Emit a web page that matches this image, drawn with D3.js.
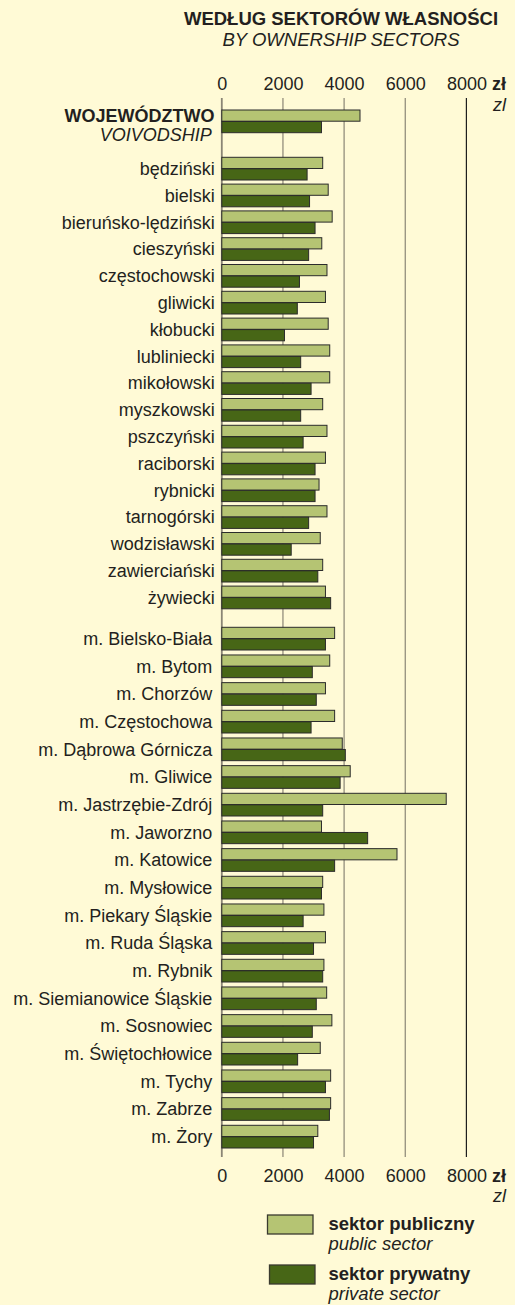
<!DOCTYPE html>
<html>
<head>
<meta charset="utf-8">
<script src="https://cdn.jsdelivr.net/npm/d3@7"></script>
<style>
  html, body { margin: 0; padding: 0; background: #fffad6; }
  svg { display: block; font-family: "Liberation Sans", Arial, sans-serif; }
</style>
</head>
<body>
<svg id="chart"></svg>
<script>
const width = 515;
const height = 1305;

const categories = [
  "WOJEWÓDZTWO",
  "będziński", "bielski", "bieruńsko-lędziński", "cieszyński", "częstochowski",
  "gliwicki", "kłobucki", "lubliniecki", "mikołowski", "myszkowski", "pszczyński",
  "raciborski", "rybnicki", "tarnogórski", "wodzisławski", "zawierciański", "żywiecki",
  "m. Bielsko-Biała", "m. Bytom", "m. Chorzów", "m. Częstochowa", "m. Dąbrowa Górnicza",
  "m. Gliwice", "m. Jastrzębie-Zdrój", "m. Jaworzno", "m. Katowice", "m. Mysłowice",
  "m. Piekary Śląskie", "m. Ruda Śląska", "m. Rybnik", "m. Siemianowice Śląskie",
  "m. Sosnowiec", "m. Świętochłowice", "m. Tychy", "m. Zabrze", "m. Żory"
];

const publicSector = [
  4520,
  3300, 3480, 3610, 3270, 3440, 3390, 3480, 3530, 3530, 3300, 3440,
  3390, 3180, 3440, 3220, 3300, 3390,
  3690, 3530, 3390, 3690, 3940, 4200, 7340, 3260, 5730, 3300,
  3340, 3390, 3340, 3430, 3600, 3220, 3560, 3560, 3140
];

const privateSector = [
  3260,
  2790, 2870, 3050, 2840, 2540, 2470, 2050, 2580, 2920, 2580, 2660,
  3050, 3050, 2840, 2270, 3140, 3560,
  3390, 2960, 3090, 2920, 4040, 3870, 3300, 4770, 3690, 3260,
  2660, 3000, 3300, 3090, 2960, 2480, 3390, 3520, 3000
];

const xTicks = [0, 2000, 4000, 6000, 8000];

const colPublic = "#b5c473";
const colPrivate = "#476616";
const ink = "#231f20";

const svg = d3.select("#chart")
  .attr("width", width)
  .attr("height", height);

svg.append("rect")
  .attr("width", width)
  .attr("height", height)
  .attr("fill", "#fffad6");

const x = d3.scaleLinear().domain([0, 8000]).range([221.8, 466.4]);

// slot index -> top of the pair of bars (voivodship, counties, cities)
const y = d3.scaleLinear()
  .domain([0, 1, 17, 18, 36])
  .range([110, 157.3, 586.1, 627.3, 1125.3]);

const barH = 11.2;

// title
svg.append("text")
  .attr("x", 341).attr("y", 24.5)
  .attr("text-anchor", "middle")
  .attr("font-size", 18.5).attr("font-weight", "bold")
  .attr("fill", ink)
  .text("WEDŁUG SEKTORÓW WŁASNOŚCI");

svg.append("text")
  .attr("x", 341).attr("y", 46)
  .attr("text-anchor", "middle")
  .attr("font-size", 18.5).attr("font-style", "italic")
  .attr("fill", ink)
  .text("BY OWNERSHIP SECTORS");

// grid
const gridTop = 98;
const gridBottom = 1157;

svg.append("g")
  .selectAll("line")
  .data(xTicks)
  .join("line")
  .attr("x1", d => x(d)).attr("x2", d => x(d))
  .attr("y1", gridTop).attr("y2", gridBottom)
  .attr("stroke", d => d === 8000 ? "#1e1e1e" : "#8a8575")
  .attr("stroke-width", d => d === 0 ? 1.8 : 1.2);

// tick labels top and bottom
[{ base: 90, unit: 110.5 }, { base: 1181.5, unit: 1201.5 }].forEach(pos => {
  const axis = d3.axisTop(x).tickValues(xTicks).tickSize(0).tickPadding(0)
    .tickFormat(d3.format("d"));
  const g = svg.append("g")
    .attr("transform", `translate(0,${pos.base})`)
    .call(axis);
  g.select(".domain").remove();
  g.selectAll("text")
    .attr("font-size", 18)
    .attr("font-family", "Liberation Sans, Arial, sans-serif")
    .attr("fill", ink)
    .attr("dy", 0);

  svg.append("text")
    .attr("x", 506).attr("y", pos.base)
    .attr("text-anchor", "end")
    .attr("font-size", 18).attr("font-weight", "bold")
    .attr("fill", ink)
    .text("zł");
  svg.append("text")
    .attr("x", 506).attr("y", pos.unit)
    .attr("text-anchor", "end")
    .attr("font-size", 18).attr("font-style", "italic")
    .attr("fill", ink)
    .text("zl");
});

const rows = categories.map((c, i) => ({
  name: c, i, pub: publicSector[i], priv: privateSector[i]
}));

const bars = svg.append("g");

bars.selectAll("rect.pub")
  .data(rows)
  .join("rect")
  .attr("class", "pub")
  .attr("x", x(0))
  .attr("y", d => y(d.i))
  .attr("width", d => x(d.pub) - x(0))
  .attr("height", barH)
  .attr("fill", colPublic)
  .attr("stroke", "#2b2b2b")
  .attr("stroke-width", 1);

bars.selectAll("rect.priv")
  .data(rows)
  .join("rect")
  .attr("class", "priv")
  .attr("x", x(0))
  .attr("y", d => y(d.i) + barH + 0.3)
  .attr("width", d => x(d.priv) - x(0))
  .attr("height", barH)
  .attr("fill", colPrivate)
  .attr("stroke", "#2b2b2b")
  .attr("stroke-width", 1);

// category labels
svg.append("g")
  .selectAll("text")
  .data(rows.slice(1))
  .join("text")
  .attr("x", d => d.i < 18 ? 214.8 : 212.3)
  .attr("y", d => y(d.i) + 17.6)
  .attr("text-anchor", "end")
  .attr("font-size", 18)
  .attr("fill", ink)
  .text(d => d.name);

svg.append("text")
  .attr("x", 214.5).attr("y", y(0) + 12)
  .attr("text-anchor", "end")
  .attr("font-size", 18).attr("font-weight", "bold")
  .attr("fill", ink)
  .text(categories[0]);

svg.append("text")
  .attr("x", 211.8).attr("y", y(0) + 31)
  .attr("text-anchor", "end")
  .attr("font-size", 18).attr("font-style", "italic")
  .attr("fill", ink)
  .text("VOIVODSHIP");

// legend
const legend = [
  { pl: "sektor publiczny", en: "public sector", color: colPublic, bx: 267.5, by: 1215 },
  { pl: "sektor prywatny", en: "private sector", color: colPrivate, bx: 269.5, by: 1265 }
];

const lg = svg.append("g")
  .selectAll("g")
  .data(legend)
  .join("g");

lg.append("rect")
  .attr("x", d => d.bx).attr("y", d => d.by)
  .attr("width", 45.5).attr("height", 19)
  .attr("fill", d => d.color)
  .attr("stroke", "#3a3a2e")
  .attr("stroke-width", 1.3);

lg.append("text")
  .attr("x", 328.5).attr("y", d => d.by + 14.5)
  .attr("font-size", 18.5).attr("font-weight", "bold")
  .attr("fill", ink)
  .text(d => d.pl);

lg.append("text")
  .attr("x", 328.5).attr("y", d => d.by + 35)
  .attr("font-size", 18.5).attr("font-style", "italic")
  .attr("fill", ink)
  .text(d => d.en);
</script>
</body>
</html>
